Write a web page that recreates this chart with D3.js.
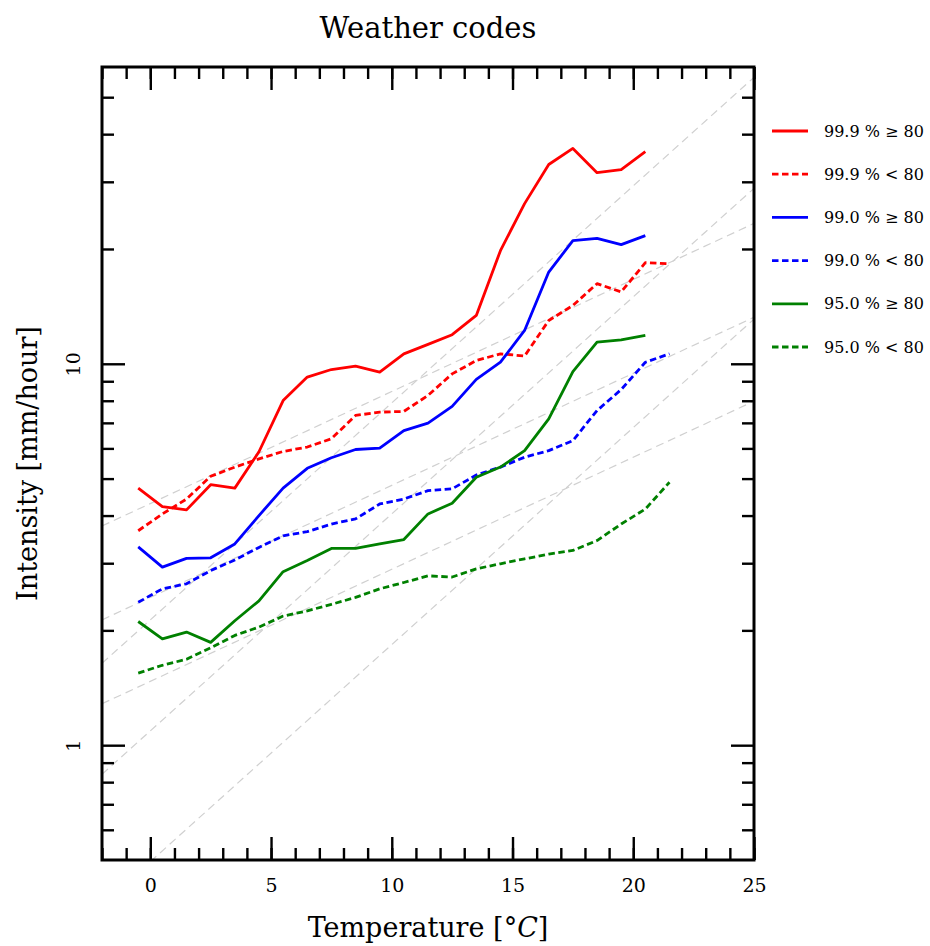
<!DOCTYPE html>
<html><head><meta charset="utf-8">
<script src="https://cdn.jsdelivr.net/npm/d3@7"></script>
<style>body{margin:0;background:#fff}svg{display:block}</style>
</head><body><svg id="c" width="930" height="946"></svg>
<script>
// ---- data ----
const tempsSolid = [-0.5,0.5,1.5,2.5,3.5,4.5,5.5,6.5,7.5,8.5,9.5,10.5,11.5,12.5,13.5,14.5,15.5,16.5,17.5,18.5,19.5,20.5];
const tempsDotted = [-0.5,0.5,1.5,2.5,3.5,4.5,5.5,6.5,7.5,8.5,9.5,10.5,11.5,12.5,13.5,14.5,15.5,16.5,17.5,18.5,19.5,20.5,21.5];

const p999High = [4.72,4.22,4.14,4.82,4.72,5.88,8.01,9.23,9.66,9.86,9.51,10.62,11.24,11.92,13.39,19.8,26.3,33.3,36.7,31.7,32.3,36.0];
const p999Low  = [3.65,4.04,4.42,5.07,5.36,5.63,5.89,6.05,6.36,7.32,7.47,7.50,8.26,9.41,10.2,10.62,10.48,12.99,14.22,16.22,15.43,18.41,18.30];
const p990High = [3.31,2.93,3.09,3.10,3.37,4.00,4.72,5.32,5.67,5.96,6.01,6.68,6.99,7.73,9.10,10.1,12.23,17.4,21.03,21.33,20.53,21.68];
const p990Low  = [2.37,2.57,2.65,2.87,3.06,3.30,3.54,3.63,3.80,3.92,4.29,4.42,4.65,4.70,5.11,5.36,5.69,5.92,6.29,7.54,8.56,10.09,10.62];
const p950High = [2.11,1.90,1.98,1.86,2.12,2.39,2.85,3.05,3.28,3.28,3.37,3.46,4.04,4.31,5.04,5.36,5.92,7.17,9.54,11.4,11.56,11.88];
const p950Low  = [1.545,1.62,1.68,1.80,1.94,2.04,2.18,2.25,2.34,2.44,2.57,2.67,2.78,2.76,2.90,2.99,3.08,3.17,3.24,3.44,3.80,4.16,4.89];

const seriesLabels = ["99.9 % \u2265 80","99.9 % < 80","99.0 % \u2265 80","99.0 % < 80","95.0 % \u2265 80","95.0 % < 80"];
const seriesColors = ["#ff0000","#ff0000","#0000ff","#0000ff","#008000","#008000"];
const seriesDotted = [false,true,false,true,false,true];
const seriesValues = [p999High,p999Low,p990High,p990Low,p950High,p950Low];

// Clausius-Clapeyron reference lines: rate per degC and value at 0 degC
const refRates = [0.07,0.07,0.07,0.14,0.14,0.14];
const refAt0   = [4.3,2.44,1.47,2.13,1.09,0.495];

const xMajorTicks = [0,5,10,15,20,25];
const xMinorTicks = d3.range(-2,26,1);
const yMajorTicks = [1,10];
const yMinorTicks = [0.6,0.7,0.8,0.9,2,3,4,5,6,7,8,9,20,30,40,50];

// ---- layout ----
const L=102, R=754, T=67, B=860;
const FONT = "'DejaVu Serif', serif";
const svg = d3.select("#c");
const x = d3.scaleLinear().domain([-2,25]).range([L,R]);
const y = d3.scaleLog().domain([0.5,60]).range([B,T]);

svg.append("defs").append("clipPath").attr("id","clip")
  .append("rect").attr("x",L).attr("y",T).attr("width",R-L).attr("height",B-T);

const plot = svg.append("g").attr("clip-path","url(#clip)");

// reference lines
refRates.forEach((r,i)=>{
  const pts = [-2,25].map(t=>[t, refAt0[i]*Math.pow(1+r,t)]);
  plot.append("path")
    .attr("d", d3.line().x(d=>x(d[0])).y(d=>y(d[1]))(pts))
    .attr("fill","none").attr("stroke","#d0d0d0").attr("stroke-width",1.2)
    .attr("stroke-dasharray","8,5");
});

// series
seriesValues.forEach((vals,i)=>{
  const ts = seriesDotted[i] ? tempsDotted : tempsSolid;
  const pts = vals.map((v,j)=>[ts[j],v]);
  plot.append("path")
    .attr("d", d3.line().x(d=>x(d[0])).y(d=>y(d[1]))(pts))
    .attr("fill","none").attr("stroke",seriesColors[i]).attr("stroke-width",2.8)
    .attr("stroke-linejoin","round")
    .attr("stroke-dasharray", seriesDotted[i] ? "6.5,3.5" : null);
});

// axes
function styleAxis(g){
  g.select(".domain").remove();
  g.selectAll(".tick line").attr("stroke","#000").attr("stroke-width",2.4);
  g.selectAll("text").attr("font-family",FONT).attr("font-size",19).attr("fill","#000");
}
const MAJ=23, MIN=12;
// bottom
svg.append("g").attr("transform",`translate(0,${B})`)
  .call(d3.axisBottom(x).tickValues(xMinorTicks).tickSize(-MIN).tickFormat("")).call(styleAxis);
svg.append("g").attr("transform",`translate(0,${B})`)
  .call(d3.axisBottom(x).tickValues(xMajorTicks).tickSize(-MAJ).tickPadding(19).tickFormat(d3.format("d"))).call(styleAxis);
// top
svg.append("g").attr("transform",`translate(0,${T})`)
  .call(d3.axisTop(x).tickValues(xMinorTicks).tickSize(-MIN).tickFormat("")).call(styleAxis);
svg.append("g").attr("transform",`translate(0,${T})`)
  .call(d3.axisTop(x).tickValues(xMajorTicks).tickSize(-MAJ).tickFormat("")).call(styleAxis);
// left
svg.append("g").attr("transform",`translate(${L},0)`)
  .call(d3.axisLeft(y).tickValues(yMinorTicks).tickSize(-MIN).tickFormat("")).call(styleAxis);
const leftMaj = svg.append("g").attr("transform",`translate(${L},0)`)
  .call(d3.axisLeft(y).tickValues(yMajorTicks).tickSize(-MAJ).tickFormat(d3.format("d"))).call(styleAxis);
leftMaj.selectAll("text").attr("x",null).attr("dy",null)
  .attr("text-anchor","middle").attr("transform","translate(-22,0) rotate(-90)");
// right
svg.append("g").attr("transform",`translate(${R},0)`)
  .call(d3.axisRight(y).tickValues(yMinorTicks).tickSize(-MIN).tickFormat("")).call(styleAxis);
svg.append("g").attr("transform",`translate(${R},0)`)
  .call(d3.axisRight(y).tickValues(yMajorTicks).tickSize(-MAJ).tickFormat("")).call(styleAxis);

// frame
svg.append("rect").attr("x",L).attr("y",T).attr("width",R-L).attr("height",B-T)
  .attr("fill","none").attr("stroke","#000").attr("stroke-width",3);

// titles
svg.append("text").attr("x",(L+R)/2).attr("y",38).attr("text-anchor","middle")
  .attr("font-family",FONT).attr("font-size",29).text("Weather codes");
const xl = svg.append("text").attr("x",(L+R)/2).attr("y",937).attr("text-anchor","middle")
  .attr("font-family",FONT).attr("font-size",27);
xl.append("tspan").text("Temperature [\u00B0");
xl.append("tspan").attr("font-style","italic").text("C");
xl.append("tspan").text("]");
svg.append("text").attr("transform",`translate(37,${(T+B)/2}) rotate(-90)`)
  .attr("text-anchor","middle").attr("font-family",FONT).attr("font-size",27)
  .text("Intensity [mm/hour]");

// legend
const legY0 = 131, legDy = 43.2;
seriesLabels.forEach((lab,i)=>{
  const yy = legY0 + i*legDy;
  svg.append("line").attr("x1",772).attr("x2",808).attr("y1",yy).attr("y2",yy)
    .attr("stroke",seriesColors[i]).attr("stroke-width",2.8)
    .attr("stroke-dasharray", seriesDotted[i] ? "6.5,3.5" : null);
  svg.append("text").attr("x",824).attr("y",yy).attr("dy","0.35em")
    .attr("font-family",FONT).attr("font-size",16).text(lab);
});
</script></body></html>
